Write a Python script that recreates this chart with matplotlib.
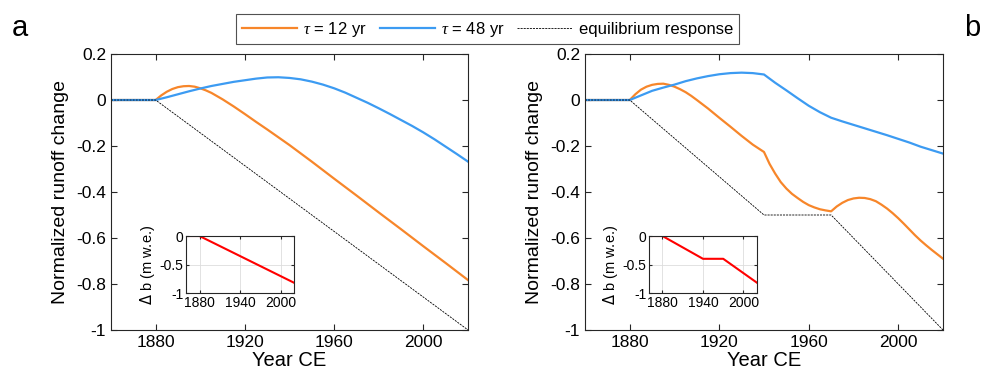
import matplotlib
matplotlib.use("Agg")
import matplotlib.pyplot as plt
from matplotlib.lines import Line2D

plt.rcParams['font.family'] = ['Liberation Sans', 'DejaVu Sans']
plt.rcParams['axes.unicode_minus'] = False
plt.rcParams['mathtext.fontset'] = 'custom'
plt.rcParams['mathtext.it'] = 'Liberation Serif:italic'

# panel a: steady linear mass-balance decline after 1880
years_a12 = [1860, 1880, 1882.5, 1885, 1887.5, 1890, 1892.5, 1895, 1897.5, 1900,
             1902.5, 1905, 1907.5, 1910, 1915, 1920, 1925, 1930, 1935, 1940,
             1950, 1960, 1970, 1980, 1990, 2000, 2010, 2020]
tau12_a = [0, 0, 0.020, 0.036, 0.048, 0.056, 0.060, 0.061, 0.058, 0.051,
           0.042, 0.031, 0.017, 0.003, -0.028, -0.061, -0.095, -0.128, -0.162, -0.196,
           -0.268, -0.342, -0.415, -0.489, -0.562, -0.636, -0.709, -0.783]
years_a48 = [1860, 1880, 1885, 1890, 1895, 1900, 1905, 1910, 1915, 1920, 1925,
             1930, 1935, 1940, 1945, 1950, 1955, 1960, 1965, 1970, 1975,
             1980, 1985, 1990, 1995, 2000, 2005, 2010, 2015, 2020]
tau48_a = [0, 0, 0.012, 0.025, 0.038, 0.050, 0.061, 0.070, 0.079, 0.086, 0.093,
           0.098, 0.099, 0.096, 0.090, 0.080, 0.067, 0.051, 0.032, 0.010, -0.012,
           -0.036, -0.061, -0.087, -0.113, -0.141, -0.171, -0.203, -0.235, -0.268]
eq_years_a = [1860, 1880, 2020]
eq_a = [0, 0, -1.0]
db_years_a = [1860, 1880, 2020]
db_a = [0, 0, -0.82]

# panel b: decline paused between 1940 and 1970
years_b12 = [1860, 1880, 1882.5, 1885, 1887.5, 1890, 1892.5, 1895, 1897.5, 1900,
             1902.5, 1905, 1907.5, 1910, 1915, 1920, 1925, 1930, 1935, 1940,
             1942.5, 1945, 1947.5, 1950, 1952.5, 1955, 1957.5, 1960, 1962.5, 1965,
             1967.5, 1970, 1972.5, 1975, 1977.5, 1980, 1982.5, 1985, 1987.5, 1990,
             1992.5, 1995, 1997.5, 2000, 2002.5, 2005, 2007.5, 2010, 2012.5, 2015,
             2017.5, 2020]
tau12_b = [0, 0, 0.025, 0.045, 0.058, 0.066, 0.070, 0.071, 0.066, 0.058,
           0.047, 0.034, 0.018, 0.000, -0.037, -0.077, -0.116, -0.156, -0.194, -0.226,
           -0.278, -0.320, -0.357, -0.385, -0.408, -0.426, -0.443, -0.457, -0.467, -0.475,
           -0.480, -0.484, -0.463, -0.447, -0.435, -0.428, -0.425, -0.426, -0.431, -0.440,
           -0.455, -0.472, -0.492, -0.514, -0.538, -0.563, -0.588, -0.611, -0.632, -0.652,
           -0.671, -0.690]
years_b48 = [1860, 1880, 1885, 1890, 1895, 1900, 1905, 1910, 1915, 1920, 1925,
             1930, 1935, 1940, 1945, 1950, 1955, 1960, 1965, 1970, 1975,
             1980, 1985, 1990, 1995, 2000, 2005, 2010, 2015, 2020]
tau48_b = [0, 0, 0.020, 0.040, 0.054, 0.067, 0.082, 0.094, 0.104, 0.112, 0.117,
           0.119, 0.117, 0.111, 0.075, 0.042, 0.008, -0.025, -0.053, -0.077, -0.093,
           -0.108, -0.123, -0.138, -0.153, -0.169, -0.185, -0.203, -0.218, -0.233]
eq_years_b = [1860, 1880, 1940, 1970, 2020]
eq_b = [0, 0, -0.5, -0.5, -1.0]
db_years_b = [1860, 1880, 1940, 1970, 2020]
db_b = [0, 0, -0.4, -0.4, -0.82]

c12 = '#F7862A'
c48 = '#3C9BF2'
axcol = '#262626'
eq_style = (0, (2.5, 1.2))

yticks = [0.2, 0, -0.2, -0.4, -0.6, -0.8, -1]
ylabels = ['0.2', '0', '-0.2', '-0.4', '-0.6', '-0.8', '-1']


def style_axes(ax, fs):
    for s in ax.spines.values():
        s.set_color(axcol)
        s.set_linewidth(0.8)
    ax.tick_params(direction='in', top=True, right=True, colors=axcol,
                   labelcolor='black', labelsize=fs, length=4, width=0.8)


def panel(rect, inset_rect, x12, t12, x48, t48, eqx, eqy, dbx, dby):
    ax = fig.add_axes(rect)
    ax.plot(x12, t12, color=c12, lw=1.6, solid_joinstyle='round')
    ax.plot(x48, t48, color=c48, lw=1.6, solid_joinstyle='round')
    ax.plot(eqx, eqy, color='black', lw=0.6, ls=eq_style)
    ax.set_xlim(1860, 2020)
    ax.set_ylim(-1, 0.2)
    ax.set_xticks([1880, 1920, 1960, 2000])
    ax.set_yticks(yticks)
    ax.set_yticklabels(ylabels)
    style_axes(ax, 12.5)
    ax.set_xlabel('Year CE', fontsize=14.5, labelpad=1)
    ax.set_ylabel('Normalized runoff change', fontsize=14, labelpad=5)

    ins = fig.add_axes(inset_rect)
    ins.plot(dbx, dby, color='red', lw=1.5)
    ins.set_xlim(1860, 2020)
    ins.set_ylim(-1, 0)
    ins.set_xticks([1880, 1940, 2000])
    ins.set_yticks([0, -0.5, -1])
    ins.set_yticklabels(['0', '-0.5', '-1'])
    ins.grid(True, color='#DDDDDD', lw=0.6)
    style_axes(ins, 10)
    ins.tick_params(length=2.5, pad=2)
    ins.set_ylabel(r'$\Delta$ b (m w.e.)', fontsize=10.5, labelpad=2)
    return ax


fig = plt.figure(figsize=(9.92, 3.77), dpi=100)

panel([0.1119, 0.1247, 0.3599, 0.732], [0.1875, 0.2228, 0.1089, 0.1512],
      years_a12, tau12_a, years_a48, tau48_a, eq_years_a, eq_a, db_years_a, db_a)
panel([0.5897, 0.1247, 0.3609, 0.732], [0.6542, 0.2228, 0.1089, 0.1512],
      years_b12, tau12_b, years_b48, tau48_b, eq_years_b, eq_b, db_years_b, db_b)

fig.text(0.012, 0.905, 'a', fontsize=21)
fig.text(0.972, 0.905, 'b', fontsize=21)

handles = [Line2D([], [], color=c12, lw=1.6),
           Line2D([], [], color=c48, lw=1.6),
           Line2D([], [], color='black', lw=0.6, ls=eq_style)]
labels = [r'$\tau$ = 12 yr', r'$\tau$ = 48 yr', 'equilibrium response']
leg = fig.legend(handles, labels, loc='center', bbox_to_anchor=(0.4914, 0.923),
                 ncol=3, fontsize=12, frameon=True, fancybox=False,
                 handlelength=3.3, handletextpad=0.4, columnspacing=0.75,
                 borderpad=0.35, edgecolor=axcol)
leg.get_frame().set_linewidth(0.8)

fig.savefig('out.png', dpi=100)
